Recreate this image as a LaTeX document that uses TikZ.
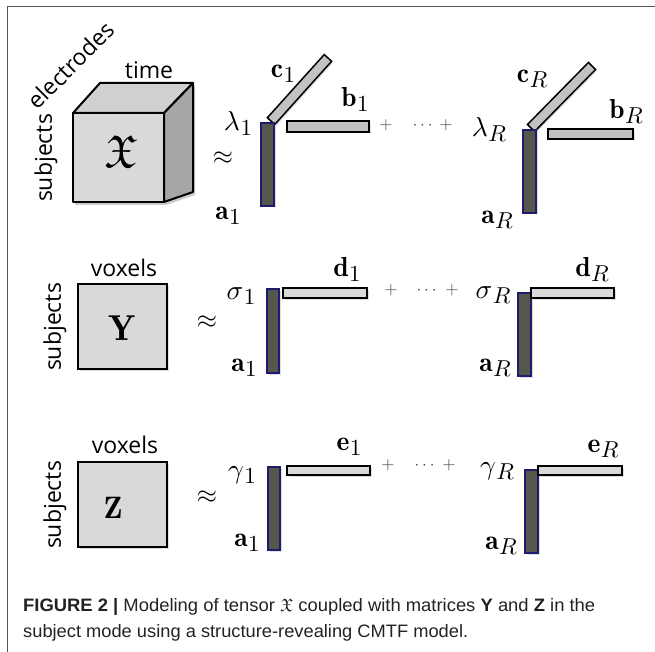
\documentclass[tikz,border=0pt]{standalone}
\usepackage{fontspec}
\usepackage{amsmath,amssymb}
\usepackage{graphicx}
\usetikzlibrary{shadows}
\newfontfamily\osans{Open Sans}
\newfontfamily\capfont{Liberation Sans}
\newcommand\mlab[1]{\scalebox{2.6}{$#1$}}
\newcommand\slab[2]{\scalebox{2.75}{$#1$}\kern0.5pt\raisebox{-5pt}{\scalebox{2.3}{$#2$}}}
\newcommand\plab[1]{\scalebox{1.7}{$#1$}}
\definecolor{framegray}{HTML}{555555}
\definecolor{facefront}{HTML}{D9D9D9}
\definecolor{facetop}{HTML}{D0D0D0}
\definecolor{faceside}{HTML}{A6A6A6}
\definecolor{bardark}{HTML}{55574A}
\definecolor{barblue}{HTML}{1C1C70}
\definecolor{barlight}{HTML}{C2C2C2}
\definecolor{barpale}{HTML}{D9D9D9}
\definecolor{plusgray}{HTML}{4D4D3A}
\definecolor{captext}{HTML}{222222}
\tikzset{
  shad/.style={drop shadow={opacity=0.25, shadow xshift=1.5pt, shadow yshift=-1.5pt}},
  wordlbl/.style={font=\osans\fontsize{23}{27}\selectfont, inner sep=0pt},
  mathlbl/.style={inner sep=0pt},
  pluslbl/.style={inner sep=0pt, text=plusgray},
  darkbar/.style={draw=barblue, fill=bardark, line width=1.1pt, inner sep=0pt, outer sep=0pt, shad},
  lightbar/.style={draw=black, fill=barlight, line width=1.5pt, inner sep=0pt, outer sep=0pt, shad},
  palebar/.style={draw=black, fill=barpale, line width=1.5pt, inner sep=0pt, outer sep=0pt, shad},
  matbox/.style={draw=black, fill=facefront, line width=2pt, inner sep=0pt, outer sep=0pt, shad},
  caplbl/.style={font=\capfont\fontsize{18}{22}\selectfont, text=captext, inner sep=0pt, anchor=base west},
}
\begin{document}
\begin{tikzpicture}[x=1pt,y=-1pt]
\useasboundingbox (0,0) rectangle (655,652);
% frame
\draw[framegray, line width=1.5pt] (7.5,652) -- (7.5,6.5) -- (655,6.5);

% ---------- row 1: tensor X ----------
\fill[black, opacity=0.2] (75,115) -- (166,115) -- (195,86) -- (195,195) -- (166,205) -- (75,205) -- cycle;
\draw[line width=2pt, line join=round, fill=facetop] (73,113) -- (100,83) -- (193,83) -- (164,113) -- cycle;
\draw[line width=2pt, line join=round, fill=faceside] (164,113) -- (193,83) -- (193,192) -- (164,202) -- cycle;
\draw[line width=2pt, line join=round, fill=facefront] (73,113) rectangle (164,202);
\node[inner sep=0pt] (X) at (121,152) {\scalebox{4.6}{$\mathfrak{X}$}};
\node[wordlbl] (time) at (149,70) {time};
\node[wordlbl, rotate=45] (electrodes) at (71,65) {electrodes};
\node[wordlbl, rotate=90] (subjX) at (46,158) {subjects};
\node[mathlbl] (approx1) at (223,158) {\mlab{\approx}};

\node[lightbar, rotate=48, minimum width=85pt, minimum height=10pt] (c1bar) at (299.5,89.5) {};
\node[darkbar, minimum width=13pt, minimum height=83pt] (a1bar) at (267.5,164.5) {};
\node[lightbar, minimum width=82pt, minimum height=11pt] (b1bar) at (328,126.5) {};
\node[mathlbl] (lam1) at (238,123) {\slab{\lambda}{1}};
\node[mathlbl] (c1) at (283,74) {\slab{\mathbf{c}}{1}};
\node[mathlbl] (b1) at (355,99) {\slab{\mathbf{b}}{1}};
\node[mathlbl] (a1x) at (228,216) {\slab{\mathbf{a}}{1}};
\node[pluslbl] (p1) at (386,125) {\plab{+}};
\node[pluslbl] (d1s) at (424,126) {\plab{\cdots}};
\node[pluslbl] (p2) at (446,125) {\plab{+}};

\node[lightbar, rotate=45.5, minimum width=87pt, minimum height=10pt] (cRbar) at (561.5,97) {};
\node[darkbar, minimum width=13pt, minimum height=83pt] (aRbar) at (529.5,171.5) {};
\node[lightbar, minimum width=85pt, minimum height=10pt] (bRbar) at (590.5,134) {};
\node[mathlbl] (lamR) at (489,129) {\slab{\lambda}{R}};
\node[mathlbl] (cR) at (532,79) {\slab{\mathbf{c}}{R}};
\node[mathlbl] (bR) at (626,111) {\slab{\mathbf{b}}{R}};
\node[mathlbl] (aRx) at (497,220) {\slab{\mathbf{a}}{R}};

% ---------- row 2: matrix Y ----------
\node[matbox, minimum width=89pt, minimum height=85pt] (Ybox) at (122.5,326.5) {};
\node[inner sep=0pt] (Y) at (122,328) {\scalebox{3.6}{$\mathbf{Y}$}};
\node[wordlbl] (voxY) at (124,268) {voxels};
\node[wordlbl, rotate=90] (subjY) at (55,327) {subjects};
\node[mathlbl] (approx2) at (207,322) {\mlab{\approx}};
\node[darkbar, minimum width=12pt, minimum height=84pt] (a1ybar) at (273,331) {};
\node[palebar, minimum width=84pt, minimum height=10pt] (d1bar) at (325,293) {};
\node[mathlbl] (sig1) at (241,296) {\slab{\sigma}{1}};
\node[mathlbl] (a1y) at (244,368) {\slab{\mathbf{a}}{1}};
\node[mathlbl] (d1) at (347,269) {\slab{\mathbf{d}}{1}};
\node[pluslbl] (p3) at (391,290) {\plab{+}};
\node[pluslbl] (d2s) at (428,291) {\plab{\cdots}};
\node[pluslbl] (p4) at (452,290) {\plab{+}};
\node[darkbar, minimum width=13pt, minimum height=83pt] (aRybar) at (524.5,334.5) {};
\node[palebar, minimum width=83pt, minimum height=10pt] (dRbar) at (572.5,293) {};
\node[mathlbl] (sigR) at (493,295) {\slab{\sigma}{R}};
\node[mathlbl] (aRy) at (495,368) {\slab{\mathbf{a}}{R}};
\node[mathlbl] (dR) at (592,269) {\slab{\mathbf{d}}{R}};

% ---------- row 3: matrix Z ----------
\node[matbox, minimum width=89pt, minimum height=85pt] (Zbox) at (122.5,504.5) {};
\node[inner sep=0pt] (Z) at (113,508) {\scalebox{3.1}{$\mathbf{Z}$}};
\node[wordlbl] (voxZ) at (125,445) {voxels};
\node[wordlbl, rotate=90] (subjZ) at (55,505) {subjects};
\node[mathlbl] (approx3) at (207,497) {\mlab{\approx}};
\node[darkbar, minimum width=12pt, minimum height=83pt] (a1zbar) at (274,508.5) {};
\node[palebar, minimum width=83pt, minimum height=9pt] (e1bar) at (328.5,470.5) {};
\node[mathlbl] (gam1) at (242,475) {\slab{\gamma}{1}};
\node[mathlbl] (a1z) at (247,543) {\slab{\mathbf{a}}{1}};
\node[mathlbl] (e1) at (349,447) {\slab{\mathbf{e}}{1}};
\node[pluslbl] (p5) at (388,465) {\plab{+}};
\node[pluslbl] (d3s) at (426,466) {\plab{\cdots}};
\node[pluslbl] (p6) at (449,465) {\plab{+}};
\node[darkbar, minimum width=13pt, minimum height=83pt] (aRzbar) at (531.5,511.5) {};
\node[palebar, minimum width=84pt, minimum height=9pt] (eRbar) at (580,470.5) {};
\node[mathlbl] (gamR) at (497,471) {\slab{\gamma}{R}};
\node[mathlbl] (aRz) at (501,546) {\slab{\mathbf{a}}{R}};
\node[mathlbl] (eR) at (603,449) {\slab{\mathbf{e}}{R}};

% ---------- caption ----------
\node[caplbl] (cap1) at (23,611) {\resizebox{572pt}{\height}{\textbf{FIGURE 2 |} Modeling of tensor $\mathfrak{X}$ coupled with matrices \textbf{Y} and \textbf{Z} in the}};
\node[caplbl] (cap2) at (23,637) {\resizebox{445pt}{\height}{subject mode using a structure-revealing CMTF model.}};
\end{tikzpicture}
\end{document}
